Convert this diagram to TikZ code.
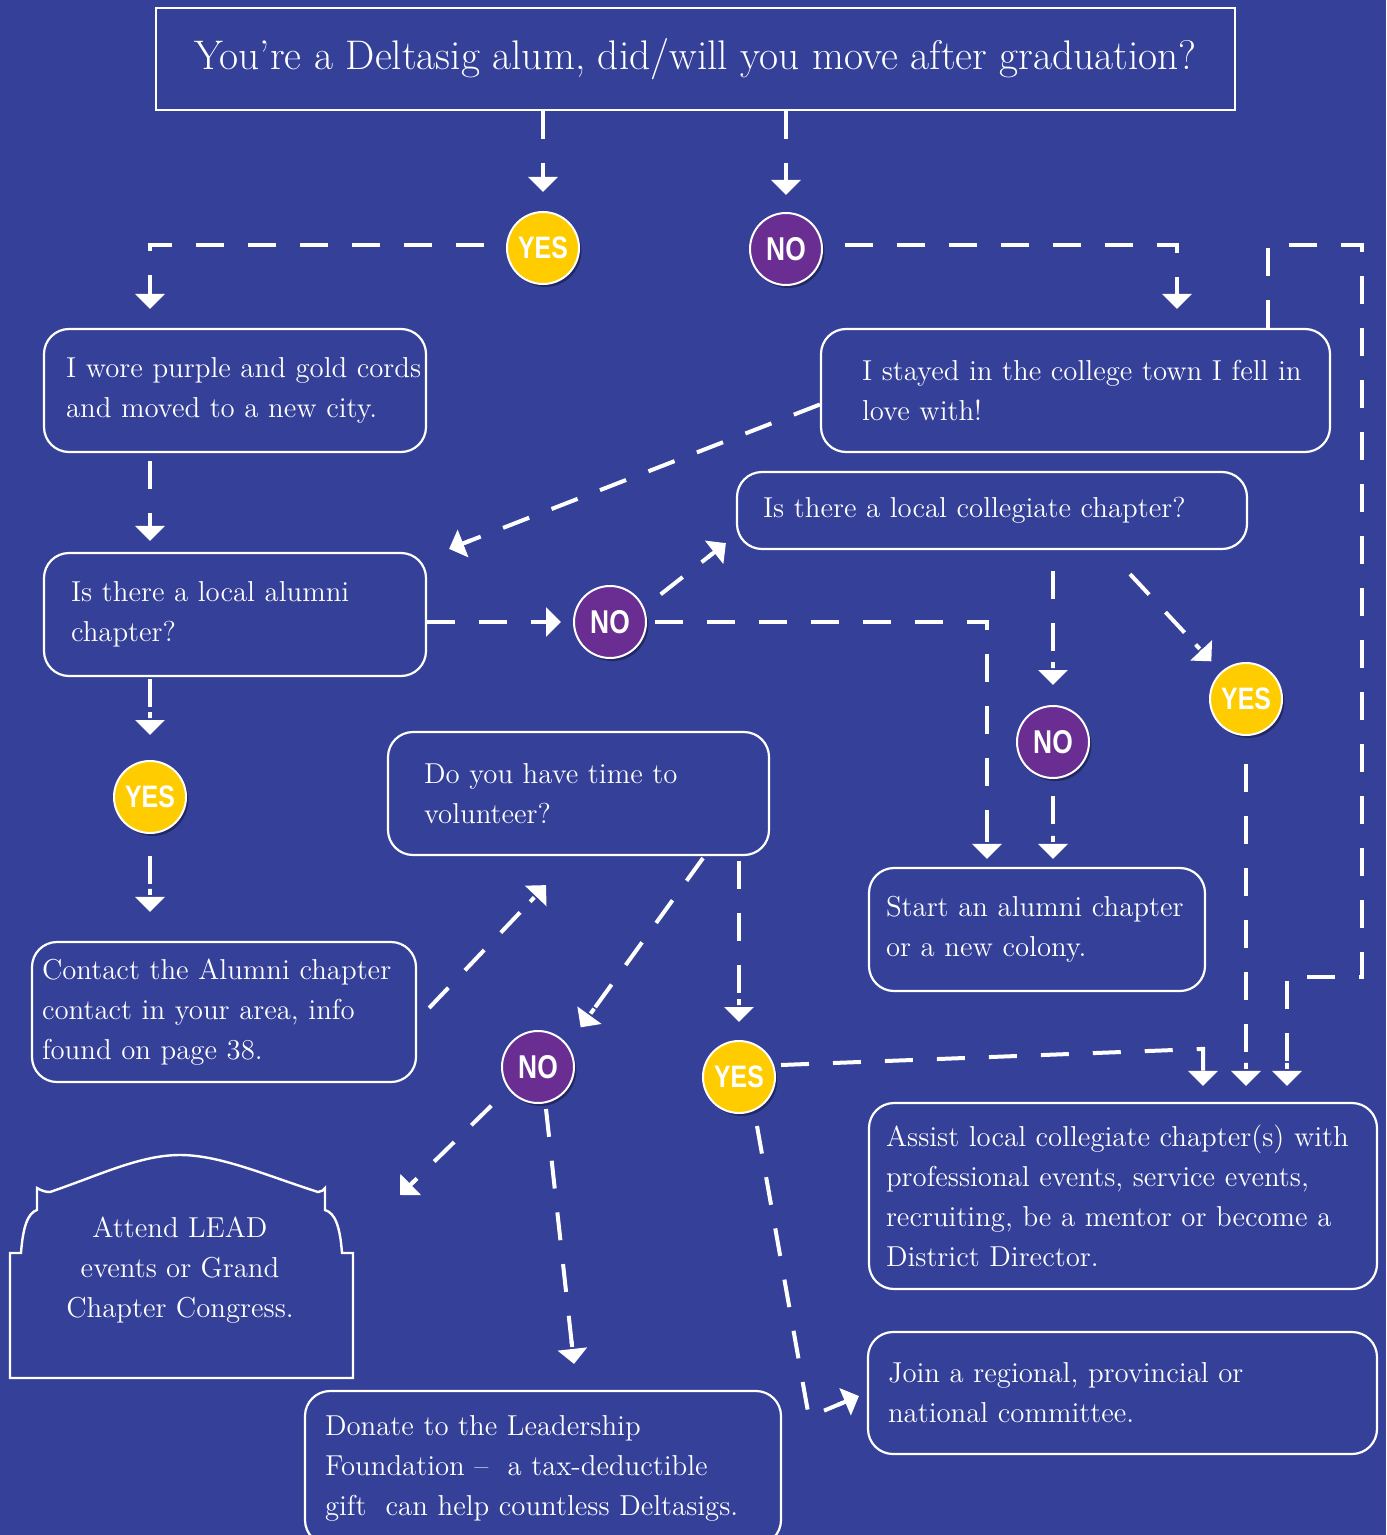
\documentclass[tikz,border=0pt]{standalone}
\usepackage{fontspec}
\newfontfamily\ynfont[FakeStretch=0.8]{Liberation Sans}
\usetikzlibrary{arrows.meta,calc,shadows}
\definecolor{bg}{RGB}{53,64,152}
\definecolor{yel}{RGB}{255,204,0}
\definecolor{pur}{RGB}{106,45,145}
\newcommand\bxfont{\fontsize{14.4pt}{20pt}\selectfont}
\begin{document}
\begin{tikzpicture}[x=0.5pt,y=-0.5pt,
  conn/.style={draw=white, line width=2pt, dash pattern=on 14pt off 12pt,
    -{Rectangle[length=5pt,width=2pt,sep=0pt]Triangle[length=7.5pt,width=14.5pt]}},
  yn/.style={circle, draw=white, line width=1pt, minimum size=36pt, inner sep=0pt, text=white,
    drop shadow={shadow xshift=1.2pt, shadow yshift=-1.5pt, opacity=0.35, fill=black}},
  yesc/.style={yn, fill=yel, font=\ynfont\bfseries\fontsize{15.5pt}{15.5pt}\selectfont},
  noc/.style={yn, fill=pur, font=\ynfont\bfseries\fontsize{16.5pt}{16.5pt}\selectfont},
  box/.style={draw=white, line width=1.1pt, rounded corners=12.5pt, align=left, inner sep=0pt,
    text=white, font=\bxfont}]
\useasboundingbox (0,0) rectangle (1386,1535);
\fill[bg] (0,0) rectangle (1386,1535);

\node[draw=white, line width=1pt, minimum width=539.5pt, minimum height=51pt, inner sep=0pt,
  text=white, font=\fontsize{20.7pt}{24pt}\selectfont] (title) at (695.5,59)
  {You’re a Deltasig alum, did/will you move after graduation?};

\node[yesc] (yes1) at (543,248) {YES};
\node[noc] (no1) at (786,249) {NO};
\node[noc] (no2) at (610,622) {NO};
\node[yesc] (yes2) at (1246,699) {YES};
\node[noc] (no3) at (1053,742) {NO};
\node[yesc] (yes3) at (150,797) {YES};
\node[noc] (no4) at (538,1067) {NO};
\node[yesc] (yes4) at (739,1077) {YES};

\node[box, minimum width=191pt, minimum height=61.5pt, text width=169pt] (b1) at (235,390.5)
  {\mbox{I wore purple and gold cords}\\\mbox{and moved to a new city.}};
\node[box, minimum width=254.5pt, minimum height=61.5pt, text width=213.5pt] (b2) at (1075.5,390.5)
  {\mbox{I stayed in the college town I fell in}\\\mbox{love with!}};
\node[box, minimum width=255pt, minimum height=38.5pt, text width=229pt] (b3) at (992,510.5)
  {\mbox{Is there a local collegiate chapter?}};
\node[box, minimum width=191pt, minimum height=61.5pt, text width=164pt] (b4) at (235,614.5)
  {\mbox{Is there a local alumni}\\\mbox{chapter?}};
\node[box, minimum width=190.5pt, minimum height=61.5pt, text width=154.5pt] (b5) at (578.5,793.5)
  {\mbox{Do you have time to}\\\mbox{volunteer?}};
\node[box, minimum width=168pt, minimum height=61.5pt, text width=151pt] (b6) at (1037,929.5)
  {\mbox{Start an alumni chapter}\\\mbox{or a new colony.}};
\node[box, minimum width=192pt, minimum height=70pt, text width=182pt] (b7) at (224,1012)
  {\mbox{Contact the Alumni chapter}\\\mbox{contact in your area, info}\\\mbox{found on page 38.}};
\node[box, minimum width=254pt, minimum height=93pt, text width=237pt] (b8) at (1123,1196)
  {\mbox{Assist local collegiate chapter(s) with}\\\mbox{professional events, service events,}\\\mbox{recruiting, be a mentor or become a}\\\mbox{District Director.}};
\node[box, minimum width=254.5pt, minimum height=61pt, text width=234.5pt] (b9) at (1122.5,1393)
  {\mbox{Join a regional, provincial or}\\\mbox{national committee.}};
\node[box, minimum width=238pt, minimum height=77pt, text width=218pt] (b10) at (543,1468)
  {\mbox{Donate to the Leadership}\\\mbox{Foundation -- \ a tax-deductible}\\\mbox{gift \ can help countless Deltasigs.}};

\draw[white, line width=1.2pt] (10,1378) -- (10,1253) -- (21,1253)
  .. controls (23,1226) and (28,1213) .. (37,1210) -- (37,1188)
  .. controls (42,1191) and (46,1192) .. (50,1192)
  .. controls (100,1175) and (140,1155) .. (180,1155)
  .. controls (220,1155) and (265,1175) .. (318,1192)
  .. controls (321,1192) and (324,1190) .. (325,1188) -- (325,1210)
  .. controls (335,1213) and (340,1226) .. (342,1253) -- (353,1253) -- (353,1378) -- cycle;
\node[text=white, font=\bxfont, align=center] (lead) at (180,1270)
  {Attend LEAD\\events or Grand\\Chapter Congress.};

\coordinate (rt) at (1362,245);
\coordinate (rb) at (1362,977);
\coordinate (leadin) at (400,1195);

\draw[conn] (title.south -| yes1) -- ($(yes1.north)+(0,-19)$);
\draw[conn] (title.south -| no1) -- ($(no1.north)+(0,-17)$);
\draw[conn] ($(yes1.west)+(-22,-3)$) -| ($(b1.north -| yes3)+(0,-19)$);
\draw[conn] ($(no1.east)+(22,-4)$) -| ($(b2.north)+(101.5,-19)$);
\draw[conn] ($(b2.west)+(0,14)$) -- ($(b4.north east)+(22,-3)$);
\draw[conn] ($(b1.south -| yes3)+(0,8)$) -- ($(b4.north -| yes3)+(0,-11)$);
\draw[conn] (b4.east |- no2) -- ($(no2.west)+(-12,0)$);
\draw[conn] ($(no2.north east)+(24.5,-1.5)$) -- ($(b3.south west)+(-10,-7)$);
\draw[conn] ($(no2.east)+(8,0)$) -| ($(b6.north)+(-50,-8)$);
\draw[conn] ($(b3.south -| no3)+(0,21)$) -- ($(no3.north)+(0,-20)$);
\draw[conn] ($(b3.south)+(138,24)$) -- ($(yes2.north west)+(-8.5,-11.5)$);
\draw[conn] ($(no3.south)+(0,17)$) -- ($(b6.north -| no3)+(0,-8)$);
\draw[conn] ($(b4.south -| yes3)+(0,2)$) -- ($(yes3.north)+(0,-25)$);
\draw[conn] ($(yes3.south)+(0,22)$) -- ($(b7.north -| yes3)+(0,-29)$);
\draw[conn] ($(b7.east)+(12,-4)$) -- ($(b5.south)+(-32.5,29)$);
\draw[conn] ($(b5.south)+(124.5,2)$) -- ($(no4.north east)+(16.5,-13.5)$);
\draw[conn] ($(b5.south -| yes4)+(0,5)$) -- ($(yes4.north)+(0,-18)$);
\draw[conn] ($(yes4.east)+(5,-12)$) -- ($(b8.north)+(80,-53)$) -- ($(b8.north)+(80,-16)$);
\draw[conn] ($(yes2.south)+(0,28)$) -- ($(b8.north -| yes2)+(0,-16)$);
\draw[conn] ($(b2.north)+(192.5,0)$) |- (rt) -- (rb) -| ($(b8.north)+(164,-16)$);
\draw[conn] ($(no4.south west)+(-20.5,12.5)$) -- (leadin);
\draw[conn] ($(no4.south)+(8,5)$) -- ($(b10.north)+(31,-26)$);
\draw[conn] ($(yes4.south)+(18,12)$) -- ($(b9.west)+(-58,24)$) -- ($(b9.west)+(-8,3)$);
\end{tikzpicture}
\end{document}
